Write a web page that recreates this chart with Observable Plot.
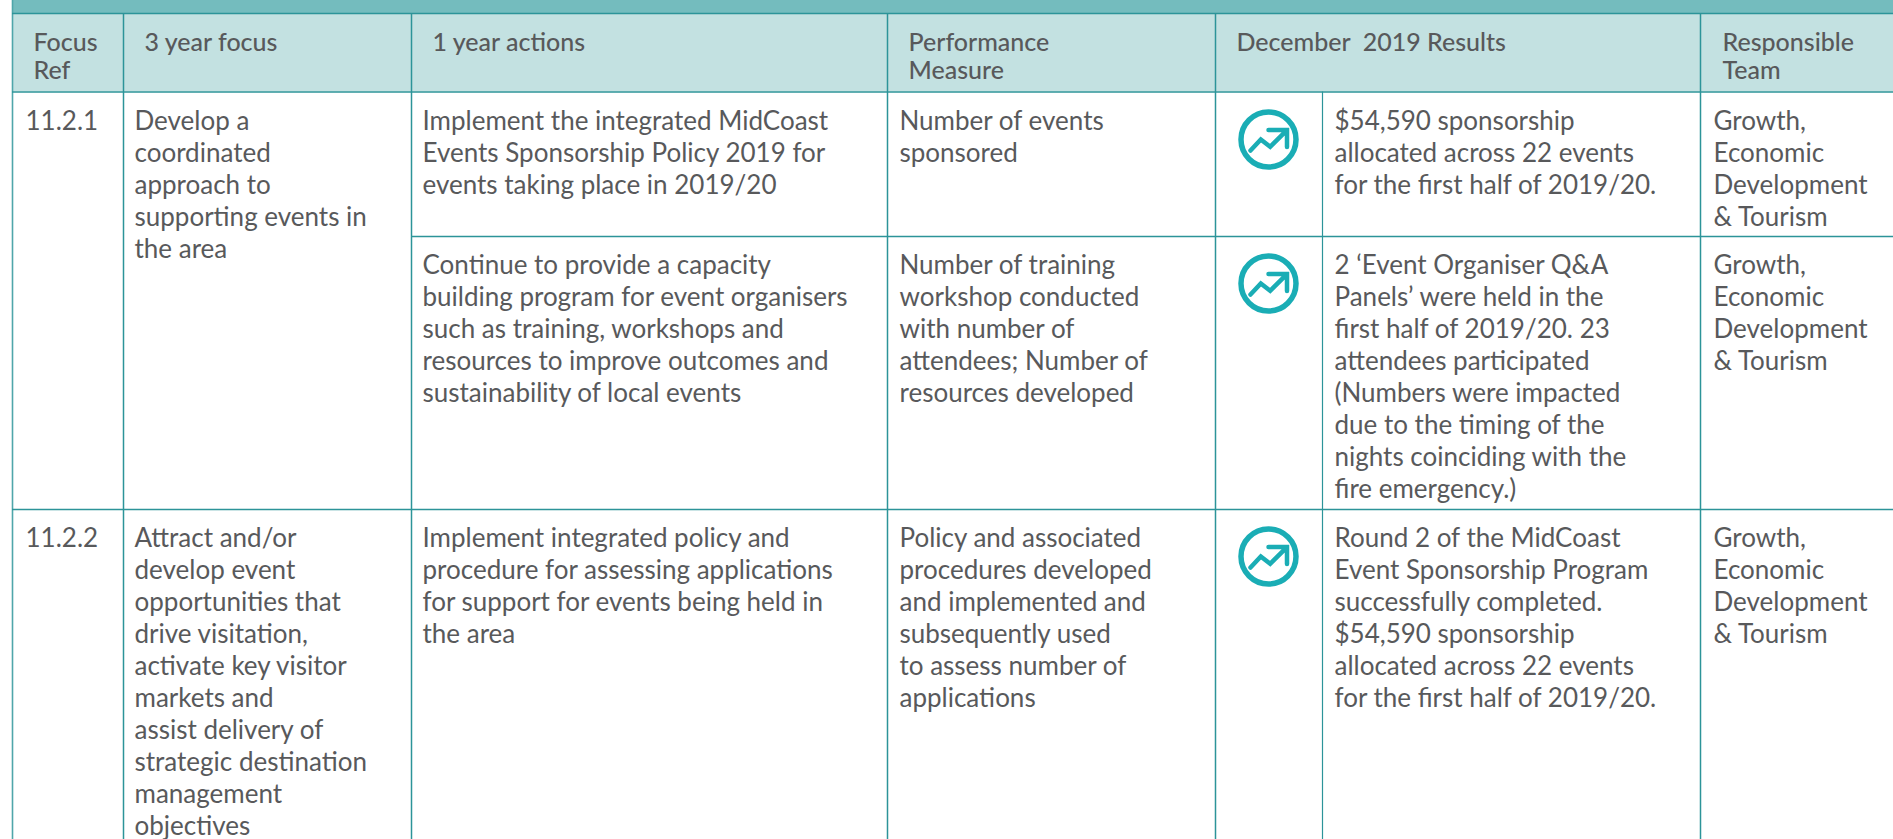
<!DOCTYPE html>
<html><head><meta charset="utf-8">
<script src="https://cdn.jsdelivr.net/npm/d3@7"></script>
<script src="https://cdn.jsdelivr.net/npm/@observablehq/plot@0.6"></script>
<style>html,body{margin:0;padding:0;background:#fff}svg{display:block}</style>
</head><body><div id="chart"></div>
<script>
const headers = [["Focus","Ref"],["3 year focus"],["1 year actions"],["Performance","Measure"],["December  2019 Results"],["Responsible","Team"]];
const focusRefs = ["11.2.1","11.2.2"];
const focusText = [
 ["Develop a","coordinated","approach to","supporting events in","the area"],
 ["Attract and/or","develop event","opportunities that","drive visitation,","activate key visitor","markets and","assist delivery of","strategic destination","management","objectives"]];
const actions = [
 ["Implement the integrated MidCoast","Events Sponsorship Policy 2019 for","events taking place in 2019/20"],
 ["Continue to provide a capacity","building program for event organisers","such as training, workshops and","resources to improve outcomes and","sustainability of local events"],
 ["Implement integrated policy and","procedure for assessing applications","for support for events being held in","the area"]];
const measures = [
 ["Number of events","sponsored"],
 ["Number of training","workshop conducted","with number of","attendees; Number of","resources developed"],
 ["Policy and associated","procedures developed","and implemented and","subsequently used","to assess number of","applications"]];
const results = [
 ["$54,590 sponsorship","allocated across 22 events","for the first half of 2019/20."],
 ["2 ‘Event Organiser Q&A","Panels’ were held in the","first half of 2019/20. 23","attendees participated","(Numbers were impacted","due to the timing of the","nights coinciding with the","fire emergency.)"],
 ["Round 2 of the MidCoast","Event Sponsorship Program","successfully completed.","$54,590 sponsorship","allocated across 22 events","for the first half of 2019/20."]];
const teams = ["Growth,","Economic","Development","& Tourism"];

// layout of the table grid
const W = 1893, H = 839;
const left = 12, band = 13, headBottom = 91.5;
const cols = [123, 411, 887, 1215, 1700];
const subCol = 1322;
const rowLines = [236, 509];
const headX = [33, 144, 432, 908, 1236, 1722];
const bodyX = {ref:25, focus:134, action:422, measure:899, result:1334, team:1713};
const rowBase = [129, 273, 546];
const bodyLH = 32.1, headLH = 28.5, headBase = 50;
const iconY = [139, 283, 556];
const iconX = 1268;
const bodySize = 26, headSize = 25;

const lineRows = (lines, x, base, lh) => lines.map((text, i) => ({x, y: base + i*lh, text}));
const body = [
  ...lineRows([focusRefs[0]], bodyX.ref, rowBase[0], bodyLH),
  ...lineRows([focusRefs[1]], bodyX.ref, rowBase[2], bodyLH),
  ...lineRows(focusText[0], bodyX.focus, rowBase[0], bodyLH),
  ...lineRows(focusText[1], bodyX.focus, rowBase[2], bodyLH),
  ...actions.flatMap((l,i)=>lineRows(l, bodyX.action, rowBase[i], bodyLH)),
  ...measures.flatMap((l,i)=>lineRows(l, bodyX.measure, rowBase[i], bodyLH)),
  ...results.flatMap((l,i)=>lineRows(l, bodyX.result, rowBase[i], bodyLH)),
  ...rowBase.flatMap(b=>lineRows(teams, bodyX.team, b, bodyLH))
];
const head = headers.flatMap((l,i)=>lineRows(l, headX[i], headBase, headLH));
const icons = iconY.map(y=>({x:iconX,y}));
const arrow = {draw(c){
  c.moveTo(-18,11);c.lineTo(-7.7,0);c.lineTo(1.7,7.3);c.lineTo(17.7,-8.7);
  c.moveTo(0,-9.5);c.lineTo(18.5,-9.5);c.lineTo(18.5,7.5);
}};
const lineColor = "#2C9499", text = "#58595B", font = "Lato";

const chart = Plot.plot({
  width:W, height:H, margin:0,
  x:{domain:[0,W],range:[0,W],axis:null},
  y:{domain:[0,H],range:[0,H],axis:null},
  style:{background:"#fff"},
  marks:[
    Plot.rect([{}],{x1:left,x2:W,y1:0,y2:band,fill:"#74BCBE"}),
    Plot.rect([{}],{x1:left,x2:W,y1:band,y2:headBottom,fill:"#C3E1E1"}),
    Plot.ruleX(cols,{y1:band,y2:H,stroke:lineColor,strokeWidth:1.5}),
    Plot.ruleX([subCol],{y1:headBottom,y2:H,stroke:lineColor,strokeWidth:1.2}),
    Plot.ruleX([left],{y1:0,y2:H,stroke:"#4FA6AA",strokeWidth:1.6}),
    Plot.ruleY([band,headBottom],{x1:left,x2:W,stroke:lineColor,strokeWidth:1.5}),
    Plot.ruleY([rowLines[1]],{x1:left,x2:W,stroke:lineColor,strokeWidth:1.5}),
    Plot.ruleY([rowLines[0]],{x1:cols[1],x2:W,stroke:lineColor,strokeWidth:1.5}),
    Plot.dot(icons,{x:"x",y:"y",r:27.5,stroke:"#1AADB5",strokeWidth:5.5,fill:"none"}),
    Plot.dot(icons,{x:"x",y:"y",symbol:arrow,r:10,stroke:"#1AADB5",strokeWidth:4.5,fill:"none",strokeLinecap:"round",strokeLinejoin:"miter"}),
    Plot.text(body,{x:"x",y:"y",text:"text",textAnchor:"start",lineAnchor:"bottom",fontFamily:font,fontSize:bodySize,fill:text}),
    Plot.text(head,{x:"x",y:"y",text:"text",textAnchor:"start",lineAnchor:"bottom",fontFamily:font,fontSize:headSize,fontWeight:500,fill:text})
  ]
});
document.getElementById("chart").append(chart);
</script></body></html>
